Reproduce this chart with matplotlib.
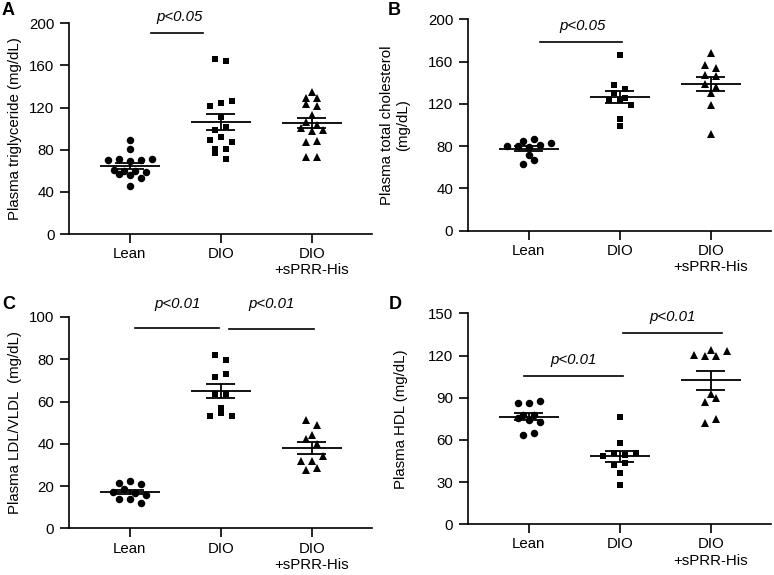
import numpy as np
import matplotlib.pyplot as plt

plt.rcParams["font.family"] = ["Liberation Sans", "DejaVu Sans"]

groups = ["Lean", "DIO", "DIO\n+sPRR-His"]

# A: plasma triglyceride (mg/dL)
tg_lean = [89.2, 80.7, 70.6, 71.5, 69.6, 70.3, 71.5, 60.8, 57.0, 55.7, 59.5, 59.5, 58.5, 52.8, 45.6]
tg_dio = [166.1, 164.2, 121.5, 124.4, 126.6, 111.4, 98.4, 101.6, 88.9, 91.8, 87.7, 81.0, 80.4, 76.6, 71.2]
tg_sprr = [135.1, 128.8, 128.8, 123.4, 121.5, 113.0, 106.0, 100.9, 103.5, 97.8, 98.7, 87.7, 88.6, 73.4, 73.4]

# B: plasma total cholesterol (mg/dL)
tc_lean = [85.2, 86.4, 80.1, 80.1, 78.9, 81.1, 82.6, 71.6, 62.8, 66.6]
tc_dio = [166.2, 137.9, 134.4, 130.6, 123.7, 125.2, 123.7, 118.9, 106.0, 98.7]
tc_sprr = [167.8, 156.8, 154.3, 147.3, 146.4, 138.5, 136.3, 130.6, 118.9, 91.2]

# C: plasma LDL/VLDL (mg/dL)
ldl_lean = [21.3, 22.4, 21.0, 17.4, 18.5, 16.5, 15.8, 13.7, 13.7, 11.8]
ldl_dio = [82.0, 79.5, 71.5, 72.9, 63.4, 63.4, 53.0, 54.6, 57.1, 53.2]
ldl_sprr = [51.3, 48.7, 44.0, 42.1, 39.7, 32.0, 31.9, 34.2, 27.6, 28.4]

# D: plasma HDL (mg/dL)
hdl_lean = [86.0, 86.0, 87.9, 75.8, 77.7, 74.2, 77.5, 72.5, 63.3, 65.2]
hdl_dio = [76.1, 57.6, 48.6, 50.5, 49.3, 50.5, 42.2, 43.4, 36.3, 27.7]
hdl_sprr = [120.1, 123.9, 119.7, 119.7, 123.5, 92.7, 87.2, 89.6, 71.8, 74.9]

MARKERS = [("o", 5.4), ("s", 4.8), ("^", 5.8)]
FS = 10.8


def swarm_offsets(values, row_h, step=0.12):
    # prism-like rows: points close in value share a row, centred on the group
    values = np.asarray(values)
    order = np.argsort(values, kind="stable")
    rows = []
    for i in order:
        if rows and values[i] - values[rows[-1][0]] < row_h:
            rows[-1].append(i)
        else:
            rows.append([i])
    offs = np.zeros(len(values))
    for row in rows:
        row = sorted(row)
        n = len(row)
        for k, i in enumerate(row):
            offs[i] = (k - (n - 1) / 2) * step
    return offs


def draw_panel(ax, data, ymax, ystep, ylabel, label_x, brackets):
    row_h = ymax * 0.028
    for i, vals in enumerate(data):
        vals = np.asarray(vals)
        m, ms = MARKERS[i]
        ax.plot(i + swarm_offsets(vals, row_h), vals, ls="none", marker=m,
                ms=ms, color="black", mew=0, zorder=2, clip_on=False)
        mean = vals.mean()
        sem = vals.std(ddof=1) / np.sqrt(len(vals))
        ax.hlines(mean, i - 0.33, i + 0.33, color="black", lw=1.3, zorder=3)
        ax.hlines([mean - sem, mean + sem], i - 0.16, i + 0.16, color="black", lw=1.3, zorder=3)
        ax.vlines(i, mean - sem, mean + sem, color="black", lw=1.3, zorder=3)

    for x0, x1, y, ty, tx in brackets:
        ax.plot([x0, x1], [y, y], color="black", lw=1.2, clip_on=False)
        ax.text(tx, ty, "p<" + ("0.05" if ymax == 200 else "0.01"), style="italic",
                ha="center", va="center", fontsize=FS, clip_on=False)

    ax.set_xlim(-0.67, 2.66)
    ax.set_ylim(0, ymax)
    ax.set_yticks(np.arange(0, ymax + 1, ystep))
    ax.set_xticks(range(3))
    ax.set_xticklabels(groups, fontsize=FS)
    ax.tick_params(axis="both", direction="out", length=6.5, width=1.2, labelsize=FS, pad=4)
    ax.tick_params(axis="x", pad=3)
    for side in ["top", "right"]:
        ax.spines[side].set_visible(False)
    for side in ["left", "bottom"]:
        ax.spines[side].set_linewidth(1.2)
    ax.set_ylabel(ylabel, fontsize=FS, linespacing=1.15)
    ax.yaxis.set_label_coords(label_x, 0.5)


fig = plt.figure(figsize=(7.74, 5.75), dpi=100)
ax_a = fig.add_axes([0.0891, 0.593, 0.3915, 0.3665])
ax_b = fig.add_axes([0.6043, 0.5988, 0.3917, 0.3676])
ax_c = fig.add_axes([0.0888, 0.0812, 0.3915, 0.3675])
ax_d = fig.add_axes([0.6043, 0.0882, 0.3917, 0.3669])

draw_panel(ax_a, [tg_lean, tg_dio, tg_sprr], 200, 40, "Plasma triglyceride (mg/dL)", -0.155,
           [(0.23, 0.80, 190.5, 206.3, 0.54)])
draw_panel(ax_b, [tc_lean, tc_dio, tc_sprr], 200, 40, "Plasma total cholesterol\n(mg/dL)", -0.19,
           [(0.12, 1.02, 178.2, 193.7, 0.59)])
draw_panel(ax_c, [ldl_lean, ldl_dio, ldl_sprr], 100, 20, "Plasma LDL/VLDL  (mg/dL)", -0.155,
           [(0.06, 0.98, 94.8, 106.2, 0.53), (1.09, 2.02, 94.3, 106.0, 1.56)])
draw_panel(ax_d, [hdl_lean, hdl_dio, hdl_sprr], 150, 30, "Plasma HDL (mg/dL)", -0.197,
           [(-0.05, 1.03, 105.7, 116.8, 0.49), (1.03, 2.12, 135.8, 147.2, 1.58)])

for letter, x, y in [("A", 2, 2), ("B", 388, 2), ("C", 2, 296), ("D", 389, 296)]:
    fig.text(x / 774, 1 - y / 575, letter, fontsize=13, fontweight="bold", ha="left", va="top")

fig.savefig("out.png", dpi=100)
